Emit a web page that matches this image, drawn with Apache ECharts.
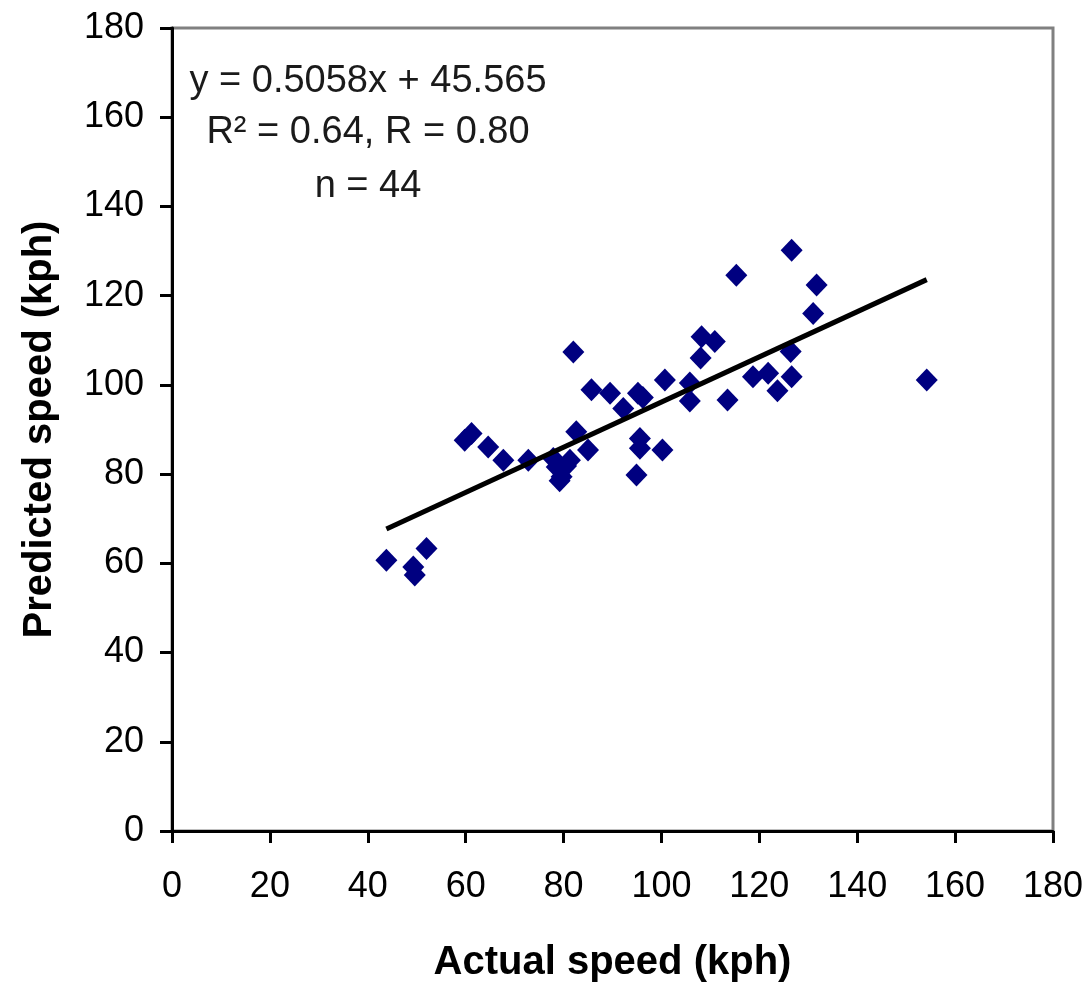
<!DOCTYPE html>
<html>
<head>
<meta charset="utf-8">
<script src="https://cdn.jsdelivr.net/npm/echarts@6/dist/echarts.min.js"></script>
<style>
  html, body { margin: 0; padding: 0; background: #fff; }
  #chart { width: 1088px; height: 984px; }
</style>
</head>
<body>
<div id="chart"></div>
<script>
// observed points (actual vs predicted, kph)
const actualSpeed = [
  43.8, 49.3, 49.6, 52.0, 59.8, 61.2, 64.6, 67.7, 72.8, 77.9,
  78.6, 79.6, 79.2, 80.5, 81.3, 82.6, 85.0, 82.0, 85.7, 89.5,
  92.2, 95.2, 96.2, 95.6, 95.6, 94.9, 100.2, 100.7, 105.8, 105.8,
  108.2, 110.9, 108.0, 113.5, 115.3, 118.7, 121.8, 123.7, 126.4, 126.6,
  126.6, 131.0, 131.7, 154.2
]
const predictedSpeed = [
  60.7, 59.2, 57.4, 63.3, 87.6, 89.1, 86.1, 83.1, 83.1, 83.5,
  81.6, 79.4, 78.5, 81.8, 83.1, 89.5, 85.4, 107.4, 98.9, 98.1,
  94.7, 98.1, 97.2, 88.0, 85.8, 79.8, 85.4, 101.1, 100.4, 96.4,
  110.8, 109.7, 106.0, 96.6, 124.6, 101.8, 102.6, 98.7, 107.5, 101.8,
  130.2, 116.0, 122.4, 101.1
]

// fitted line endpoints, y = 0.5058x + 45.565
const trendX = [43.8, 154.2]
const trendY = [67.7, 123.6]

const axisTicks = [0, 20, 40, 60, 80, 100, 120, 140, 160, 180]
const statLines = ['y = 0.5058x + 45.565', 'R\u00b2 = 0.64, R = 0.80', 'n = 44']

const chart = echarts.init(document.getElementById('chart'))

const fontFamily = '"Liberation Sans", Arial, sans-serif'
const axisCommon = {
  type: 'value',
  min: axisTicks[0],
  max: axisTicks[axisTicks.length - 1],
  interval: 20,
  splitLine: { show: false },
  axisLine: { show: true, lineStyle: { color: '#000', width: 3 } },
  axisTick: { show: true, inside: false, length: 12, lineStyle: { color: '#000', width: 3 } },
  nameLocation: 'middle',
  nameTextStyle: { color: '#000', fontFamily, fontSize: 40, fontWeight: 'bold' }
}

const option = {
  backgroundColor: '#fff',
  animation: false,
  grid: {
    left: 172, right: 35, top: 28, bottom: 153,
    outerBoundsMode: 'none',
    show: true, borderColor: '#808080', borderWidth: 3, backgroundColor: '#fff'
  },
  xAxis: {
    ...axisCommon,
    name: 'Actual speed (kph)',
    nameGap: 112,
    axisLabel: { color: '#000', fontFamily, fontSize: 36, margin: 38 }
  },
  yAxis: {
    ...axisCommon,
    name: 'Predicted speed (kph)',
    nameGap: 112,
    axisLabel: { color: '#000', fontFamily, fontSize: 36, margin: 28 }
  },
  graphic: statLines.map((t, i) => ({
    type: 'text',
    x: 368,
    y: [82, 133, 187][i],
    style: {
      text: t,
      fill: '#1a1a1a',
      font: '38px ' + fontFamily,
      textAlign: 'center',
      textVerticalAlign: 'middle'
    }
  })),
  series: [
    {
      type: 'scatter',
      data: actualSpeed.map((x, i) => [x, predictedSpeed[i]]),
      symbol: 'diamond',
      symbolSize: [22, 23],
      itemStyle: { color: '#000080', opacity: 1 }
    },
    {
      type: 'line',
      data: trendX.map((x, i) => [x, trendY[i]]),
      showSymbol: false,
      symbol: 'none',
      lineStyle: { color: '#000', width: 5 },
      z: 3
    }
  ]
}

chart.setOption(option)
window.addEventListener('resize', () => chart.resize())
</script>
</body>
</html>
